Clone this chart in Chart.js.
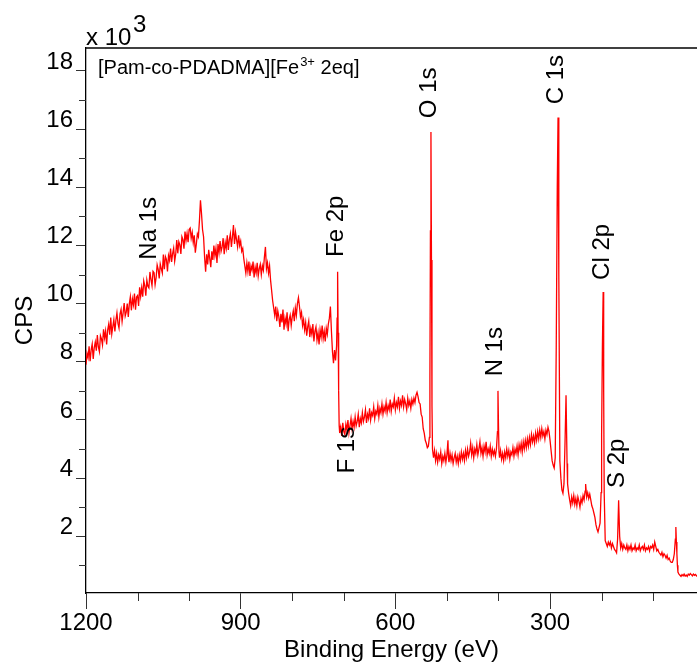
<!DOCTYPE html>
<html>
<head>
<meta charset="utf-8">
<title>XPS survey</title>
<style>
html, body { margin: 0; padding: 0; background: #fff; }
#wrap { width: 697px; height: 666px; }
</style>
<script src="https://cdn.jsdelivr.net/npm/chart.js@4.4.1/dist/chart.umd.min.js"></script>
</head>
<body>
<div id="wrap"><canvas id="xps" width="697" height="666"></canvas></div>

<script>
// survey spectrum: binding energy (eV) and counts (x 10^3 CPS)
var energy = [
  1200,1198,1196,1194,1192,1190,1188,1186,1184,1182,
  1180,1178,1176,1174,1172,1170,1168,1166,1164,1162,
  1160,1158,1156,1154,1152,1150,1148,1146,1144,1142,
  1140,1138,1136,1134,1132,1130,1128,1126,1124,1122,
  1120,1118,1116,1114,1112,1110,1108,1106,1104,1102,
  1100,1098,1096,1094,1092,1090,1088,1086,1084,1082,
  1080,1078,1076,1074,1072,1070,1068,1066,1064,1062,
  1060,1058,1056,1054,1052,1050,1048,1046,1044,1042,
  1040,1038,1036,1034,1032,1030,1028,1026,1024,1022,
  1020,1018,1016,1014,1012,1010,1008,1006,1004,1002,
  1000,
  998,996,994,992,990,988,986,984,982,980,
  978,976,974,972,970,968,966,964,962,960,
  958,956,954,952,950,948,946,944,942,940,
  938,936,934,932,930,928,926,924,922,920,
  918,916,914,912,910,908,906,904,902,900,
  898,896,894,892,890,888,886,884,882,880,
  878,876,874,872,870,868,866,864,862,860,
  858,856,854,852,850,848,846,844,842,840,
  838,836,834,832,830,828,826,824,822,820,
  818,816,814,812,810,808,806,804,802,800,
  798,796,794,792,790,788,786,784,782,780,
  778,776,774,772,770,768,766,764,762,760,
  758,756,754,752,750,748,746,744,742,740,
  738,736,734,732,730,728,726,724,722,720,
  718,716,714,713,712,711,710,709,708,706,
  704,702,700,698,696,694,692,690,688,686,
  684,682,680,678,676,674,672,670,668,666,
  664,662,660,658,656,654,652,650,648,646,
  644,642,640,638,636,634,632,630,628,626,
  624,622,620,618,616,614,612,610,608,606,
  604,602,600,598,596,594,592,590,588,586,
  584,582,580,578,576,574,572,570,568,566,
  564,562,560,558,556,554,552,550,548,546,
  544,542,540,538,536,
  534,533,532,531,530,529,528,527,
  526,524,522,520,518,516,514,512,510,508,
  506,504,502,500,
  498,497,
  496,494,492,490,488,486,484,482,480,478,
  476,474,472,470,468,466,464,462,460,458,
  456,454,452,450,448,446,444,442,440,438,
  436,434,432,430,428,426,424,422,420,418,
  416,414,412,410,408,406,404,
  402,401,400,399,
  398,396,394,392,390,388,386,384,382,380,
  378,376,374,372,370,368,366,364,362,360,
  358,356,354,352,350,348,346,344,342,340,
  338,336,334,332,330,328,326,324,322,320,
  318,316,314,312,310,308,306,304,302,300,
  298,296,294,292,290,
  288,286,284.5,283,281,279,277,275,273,271,
  269,267,266,264,262,260,258,256,254,252,
  250,248,246,244,242,240,238,236,234,232,
  231,229,227,225,223,221,219,217,215,213,
  211,209,207,205,203,201,200,198.5,197,196,
  195,193,191,189,187,185,183,181,179,177,
  175,173,171,169,167,165,163,161,159,157,
  155,153,151,149,147,145,143,141,139,137,
  135,133,131,129,127,125,123,121,119,117,
  115,113,111,109,107,105,103,101,99,97,
  95,93,91,89,87,85,83,81,79,77,
  75,73,71,69,67,65,63,61,59,57,
  56,55,54,53,52,50,48,46,44,42,
  40,38,36,34,32,30,28,26,24,22,
  20,18,16,15
];
var cps = [
  7.90,8.29,8.14,8.53,8.02,8.41,8.61,8.10,8.49,8.68,
  8.38,8.92,8.51,8.35,8.90,8.79,8.58,9.12,8.82,9.06,
  8.60,9.09,9.29,8.93,9.52,8.96,9.21,9.45,9.04,9.43,
  9.68,9.32,9.16,9.65,9.80,9.39,9.68,10.02,9.57,9.71,
  10.00,9.54,9.99,10.23,9.77,10.16,9.96,10.35,9.79,10.23,
  10.28,9.92,10.56,10.25,10.55,10.24,10.78,10.62,10.27,10.81,
  10.60,10.54,11.09,10.83,10.62,11.11,11.06,10.65,10.89,11.33,
  11.18,10.87,11.36,11.20,11.05,11.69,11.18,11.62,11.52,11.11,
  11.65,11.49,11.89,11.43,11.72,11.91,11.46,11.70,12.19,11.73,
  12.13,12.02,11.71,12.30,12.20,11.89,12.48,12.17,12.42,12.11,
  12.55,
  12.60,12.25,12.45,12.10,12.35,11.75,12.05,12.40,12.30,12.85,
  13.55,13.10,12.55,12.30,11.60,11.10,11.70,11.35,11.85,11.55,
  11.25,11.80,11.50,12.00,11.65,11.90,11.40,12.05,11.75,12.15,
  11.80,11.95,12.25,11.70,12.10,11.90,12.35,11.85,12.20,12.40,
  11.95,12.30,12.70,12.05,12.45,12.20,11.95,12.35,12.00,12.15,
  11.80,11.90,11.55,11.30,11.05,11.40,11.10,11.45,10.95,11.30,
  11.15,11.45,10.90,11.25,11.05,11.40,10.95,11.20,11.35,11.00,
  11.30,11.15,11.60,11.95,11.20,11.40,11.05,11.30,10.80,10.45,
  10.10,9.85,9.60,9.90,9.40,9.75,9.55,9.20,9.65,9.35,
  9.80,9.10,9.50,9.30,9.70,9.05,9.45,9.60,9.25,9.55,
  9.75,9.40,9.85,9.60,10.00,10.20,9.90,9.55,9.70,9.25,
  9.45,9.10,9.35,8.90,9.20,9.40,8.85,9.15,8.95,9.30,
  8.70,9.05,9.20,8.75,9.00,8.60,9.10,8.85,9.25,8.80,
  9.05,8.70,9.15,8.95,9.30,9.50,9.90,9.05,8.35,7.95,
  8.40,8.05,8.55,9.50,11.10,9.00,7.00,5.80,5.55,5.75,
  5.45,5.90,5.60,5.50,5.85,5.65,6.00,5.55,5.80,6.05,
  5.70,5.95,5.75,6.10,5.80,5.95,6.20,5.75,6.05,5.90,
  6.25,5.95,6.10,6.35,5.90,6.20,6.05,6.40,6.00,6.25,
  6.15,6.45,6.05,6.30,6.20,6.50,6.10,6.40,6.25,6.55,
  6.20,6.45,6.30,6.60,6.25,6.50,6.35,6.70,6.30,6.55,
  6.45,6.75,6.35,6.60,6.45,6.80,6.40,6.65,6.50,6.85,
  6.45,6.70,6.55,6.35,6.75,6.50,6.65,6.40,6.70,6.55,
  6.75,6.60,6.85,6.95,6.80,6.60,6.55,6.20,6.10,5.70,
  5.55,5.30,5.20,5.05,5.10,
  5.40,7.50,12.50,15.90,11.50,6.50,5.00,4.85,
  4.70,4.95,4.60,4.85,4.55,4.80,4.65,4.90,4.50,4.75,
  4.60,4.85,4.55,4.80,
  5.30,4.70,
  4.55,4.85,4.60,4.80,4.50,4.70,4.85,4.55,4.75,4.50,
  4.80,4.60,4.90,4.65,4.85,4.60,4.95,4.70,5.00,4.75,
  4.90,5.20,4.80,5.05,4.70,5.00,4.85,5.15,4.80,5.00,
  5.25,4.85,5.05,4.75,5.10,4.90,5.25,4.80,5.00,4.85,
  5.10,4.75,5.00,4.80,4.95,4.75,5.00,
  5.60,7.00,5.80,4.90,
  4.70,4.95,4.65,4.85,4.60,4.90,4.70,5.00,4.75,4.95,
  4.65,4.90,4.80,5.05,4.75,5.00,4.85,5.10,4.80,5.15,
  4.95,5.20,4.90,5.25,5.00,5.30,5.05,5.35,5.10,5.40,
  5.15,5.50,5.25,5.45,5.20,5.55,5.30,5.60,5.35,5.65,
  5.40,5.70,5.45,5.60,5.35,5.65,5.50,5.75,5.60,5.30,
  4.95,4.60,4.45,4.35,4.70,
  8.50,14.00,16.40,11.00,4.60,4.00,3.60,3.48,3.80,5.20,
  6.85,4.50,3.80,3.48,3.25,3.05,3.35,3.15,3.40,3.10,
  3.30,3.05,3.35,3.20,3.00,3.30,3.15,3.40,3.25,3.55,
  3.80,3.35,3.50,3.30,3.45,3.25,3.05,2.95,2.80,2.65,
  2.40,2.25,2.15,2.30,2.45,3.50,5.50,8.50,10.40,7.00,
  3.50,1.85,1.75,1.65,1.80,1.70,1.80,1.60,1.75,1.65,
  1.55,1.50,1.43,1.90,3.24,2.00,1.60,1.75,1.55,1.70,
  1.60,1.55,1.70,1.50,1.65,1.55,1.70,1.50,1.60,1.55,
  1.70,1.50,1.60,1.55,1.70,1.50,1.60,1.65,1.55,1.70,
  1.50,1.60,1.55,1.65,1.50,1.65,1.60,1.70,1.55,1.80,
  1.65,1.50,1.55,1.45,1.40,1.35,1.45,1.30,1.40,1.35,
  1.25,1.35,1.20,1.25,1.15,1.10,1.10,1.20,1.40,1.90,
  2.32,1.80,1.40,1.00,0.77,0.70,0.66,0.62,0.68,0.64,
  0.70,0.63,0.67,0.62,0.70,0.66,0.72,0.68,0.64,0.70,
  0.66,0.69,0.64,0.66
];

// tick positions
var majorX = [1200, 900, 600, 300];
var minorX = [1100, 1000, 800, 700, 500, 400, 200, 100];
var majorY = [2, 4, 6, 8, 10, 12, 14, 16, 18];
var minorY = [1, 3, 5, 7, 9, 11, 13, 15, 17];

// peak labels: name, energy and height of the label centre
var peakNames = ['Na 1s', 'Fe 2p', 'F 1s', 'O 1s', 'N 1s', 'C 1s', 'Cl 2p', 'S 2p'];
var peakLabelE = [1078, 715, 694, 534.5, 406.6, 287.4, 198.8, 169.5];
var peakLabelY = [12.59, 12.66, 4.96, 17.25, 8.35, 17.7, 11.78, 4.51];

var FONT = '"Liberation Sans", Arial, sans-serif';

var points = energy.map(function (e, i) { return {x: e, y: cps[i]}; });

// text, frame and minor ticks on top of the plot
var extras = {
  id: 'extras',
  afterDraw: function (chart) {
    var ctx = chart.ctx, xs = chart.scales.x, ys = chart.scales.y, a = chart.chartArea;
    ctx.save();

    ctx.strokeStyle = '#000';
    ctx.lineWidth = 1.3;
    ctx.beginPath();
    ctx.moveTo(a.left, a.top);
    ctx.lineTo(a.right, a.top);
    ctx.stroke();

    ctx.strokeStyle = '#333';
    ctx.lineWidth = 1;
    ctx.beginPath();
    minorX.forEach(function (v) {
      var p = Math.round(xs.getPixelForValue(v)) + 0.5;
      ctx.moveTo(p, a.bottom);
      ctx.lineTo(p, a.bottom + 8);
    });
    minorY.forEach(function (v) {
      var p = Math.round(ys.getPixelForValue(v)) + 0.5;
      ctx.moveTo(a.left - 7, p);
      ctx.lineTo(a.left, p);
    });
    ctx.stroke();

    ctx.fillStyle = '#000';
    ctx.font = '24px ' + FONT;
    ctx.textAlign = 'center';
    ctx.textBaseline = 'middle';
    peakNames.forEach(function (name, i) {
      ctx.save();
      ctx.translate(xs.getPixelForValue(peakLabelE[i]), ys.getPixelForValue(peakLabelY[i]));
      ctx.rotate(-Math.PI / 2);
      ctx.fillText(name, 0, 0);
      ctx.restore();
    });

    // y multiplier
    ctx.textAlign = 'left';
    ctx.textBaseline = 'alphabetic';
    ctx.fillText('x 10', a.left, 45);
    ctx.fillText('3', a.left + 47, 32);

    // sample name
    ctx.font = '20px ' + FONT;
    var sx = a.left + 12, sy = 74;
    var t1 = '[Pam-co-PDADMA][Fe';
    ctx.fillText(t1, sx, sy);
    sx += ctx.measureText(t1).width;
    ctx.font = '13px ' + FONT;
    ctx.fillText('3+', sx + 1, sy - 8);
    sx += ctx.measureText('3+').width + 1;
    ctx.font = '20px ' + FONT;
    ctx.fillText(' 2eq]', sx, sy);

    ctx.restore();
  }
};

new Chart(document.getElementById('xps'), {
  type: 'line',
  data: {
    datasets: [{
      data: points,
      borderColor: '#ff0000',
      borderWidth: 1.3,
      pointRadius: 0,
      tension: 0,
      fill: false
    }]
  },
  options: {
    responsive: false,
    animation: false,
    devicePixelRatio: 1,
    layout: {padding: {top: 48, right: 0, left: 0, bottom: 0}},
    plugins: {legend: {display: false}, tooltip: {enabled: false}},
    scales: {
      x: {
        type: 'linear',
        reverse: true,
        min: 15,
        max: 1200,
        afterBuildTicks: function (s) { s.ticks = majorX.map(function (v) { return {value: v}; }); },
        afterFit: function (s) { s.height = 73; },
        ticks: {
          autoSkip: false,
          maxRotation: 0,
          padding: 0,
          color: '#000',
          font: {family: FONT, size: 24},
          callback: function (v) { return String(v); }
        },
        grid: {display: true, drawOnChartArea: false, drawTicks: true, tickLength: 16, tickColor: '#333', tickWidth: 1},
        border: {display: true, color: '#000', width: 1.3},
        title: {display: true, text: 'Binding Energy (eV)', color: '#000', font: {family: FONT, size: 24}, padding: {top: 0, bottom: 1}}
      },
      y: {
        type: 'linear',
        min: 0.05,
        max: 18.79,
        afterBuildTicks: function (s) { s.ticks = majorY.map(function (v) { return {value: v}; }); },
        afterFit: function (s) { s.width = 86; },
        ticks: {
          padding: 3,
          labelOffset: -9,
          color: '#000',
          font: {family: FONT, size: 24},
          callback: function (v) { return String(v); }
        },
        grid: {display: true, drawOnChartArea: false, drawTicks: true, tickLength: 10, tickColor: '#333', tickWidth: 1},
        border: {display: true, color: '#000', width: 1.3},
        title: {display: true, text: 'CPS', color: '#000', font: {family: FONT, size: 24}, padding: {top: 11, bottom: 0}}
      }
    }
  },
  plugins: [extras]
});
</script>
</body>
</html>
